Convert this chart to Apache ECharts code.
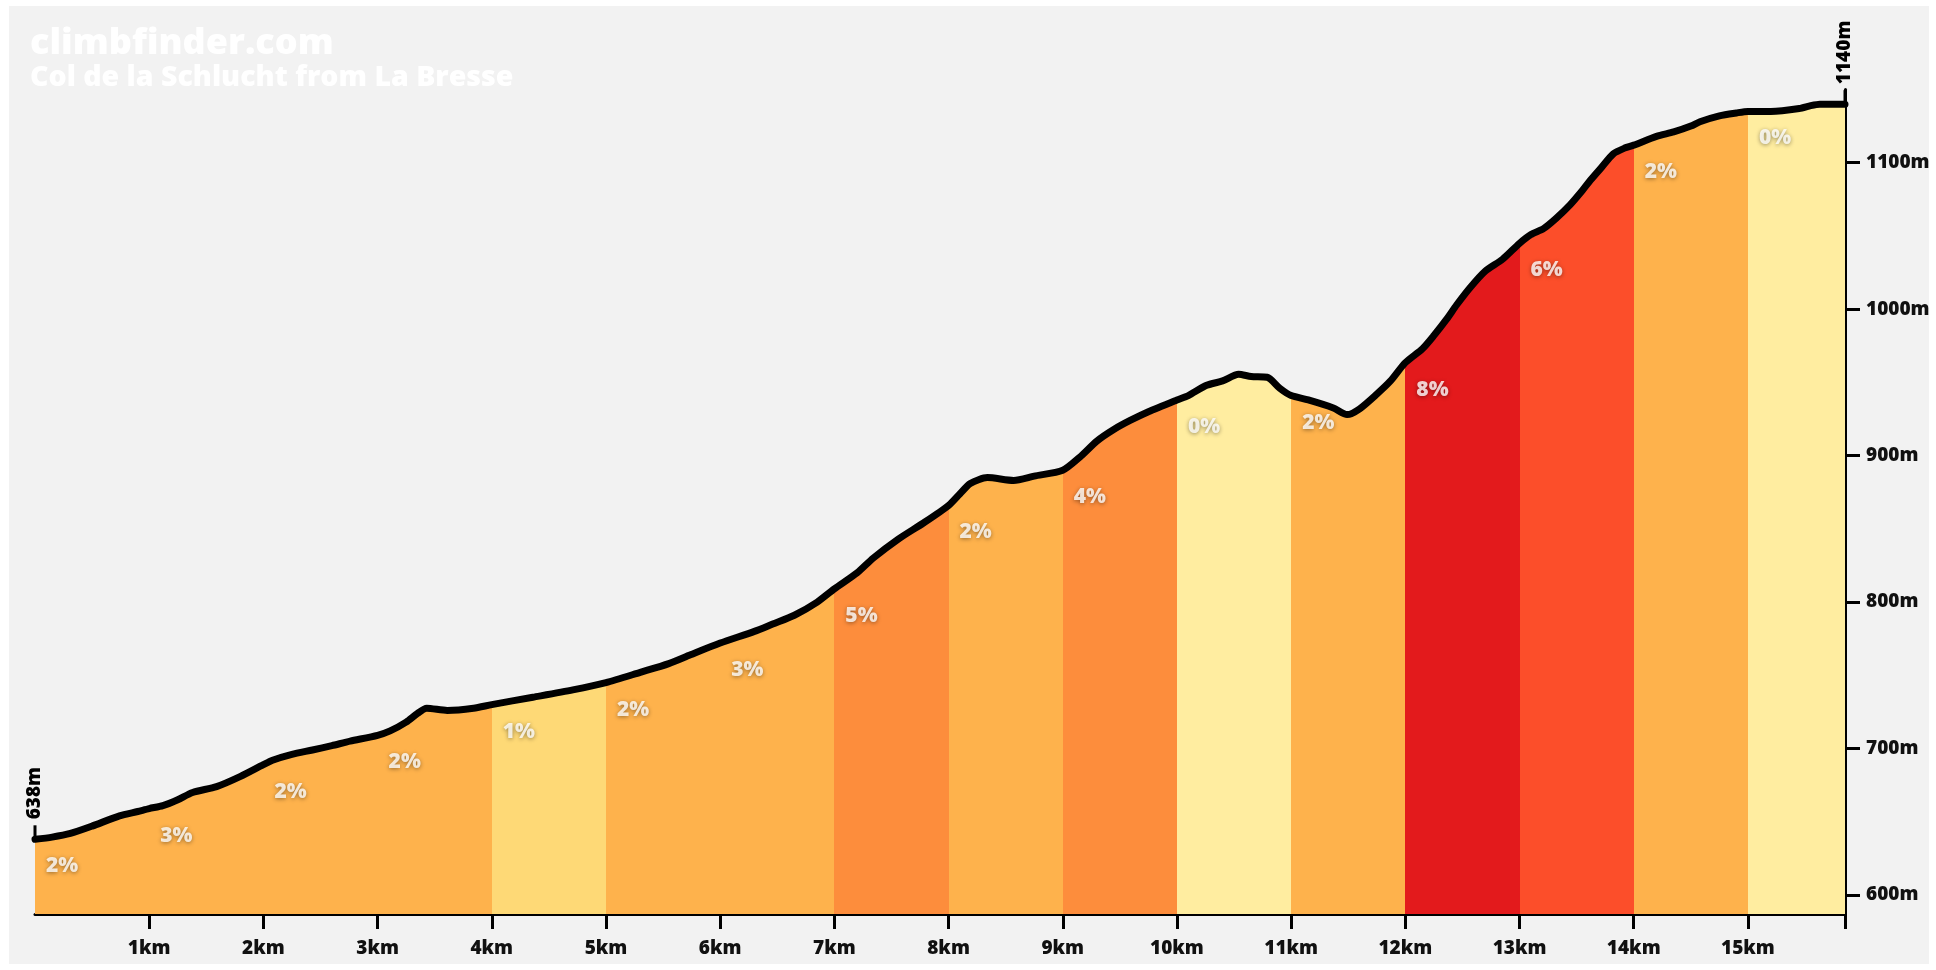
<!DOCTYPE html>
<html>
<head>
<meta charset="utf-8">
<title>Col de la Schlucht from La Bresse</title>
<script src="https://cdn.jsdelivr.net/npm/echarts@6/dist/echarts.min.js"></script>
<style>
  html, body { margin: 0; padding: 0; background: #ffffff; width: 1936px; height: 970px; overflow: hidden; }
  #panel { position: absolute; left: 9px; top: 6px; width: 1920px; height: 958px; background: #f2f2f2; }
  #chart { position: absolute; left: 0; top: 0; width: 1936px; height: 970px; }
</style>
</head>
<body>
<div id="panel"></div>
<div id="chart"></div>
<script>
// Elevation profile: [distance in km, elevation in m]
const profile = [
  [0, 638], [0.15, 639.5], [0.31, 642], [0.5, 647], [0.74, 654], [0.9, 657],
  [1, 659], [1.12, 661], [1.25, 665], [1.38, 670], [1.59, 674], [1.8, 681],
  [2, 689], [2.08, 692], [2.25, 696], [2.43, 699], [2.6, 702], [2.76, 705],
  [3, 709], [3.11, 712], [3.25, 718], [3.35, 724], [3.43, 727.5], [3.61, 726], [3.84, 727.5],
  [4, 730], [4.36, 735], [4.71, 740],
  [5, 745], [5.3, 752], [5.55, 758], [5.74, 764],
  [6, 772], [6.3, 780], [6.46, 785], [6.65, 791], [6.85, 800],
  [7, 809], [7.2, 820], [7.34, 830], [7.56, 843], [7.78, 854],
  [8, 866], [8.1, 874], [8.19, 881], [8.34, 885], [8.57, 883], [8.75, 886],
  [9, 890], [9.15, 899], [9.3, 910], [9.45, 918], [9.59, 924], [9.75, 930],
  [10, 938], [10.1, 941], [10.26, 948], [10.4, 951], [10.54, 955.5], [10.65, 954], [10.79, 953.5], [10.9, 946],
  [11, 941], [11.15, 938], [11.37, 932.5], [11.49, 928], [11.6, 932], [11.75, 942], [11.87, 951],
  [12, 963.5], [12.15, 973], [12.25, 982], [12.36, 993], [12.45, 1003], [12.57, 1015], [12.7, 1026], [12.85, 1034],
  [13, 1045], [13.1, 1051], [13.21, 1055], [13.32, 1062], [13.44, 1071], [13.55, 1081], [13.62, 1088], [13.72, 1097], [13.82, 1106], [13.92, 1110],
  [14, 1112], [14.2, 1118], [14.35, 1121], [14.5, 1125], [14.58, 1128], [14.75, 1132], [14.9, 1134],
  [15, 1135], [15.2, 1135], [15.45, 1137], [15.55, 1139], [15.63, 1140], [15.85, 1140]
];

// Kilometre segments and their average gradient (%)
const segStarts = [0, 1, 2, 3, 4, 5, 6, 7, 8, 9, 10, 11, 12, 13, 14, 15];
const grades    = [2, 3, 2, 2, 1, 2, 3, 5, 2, 4, 0, 2, 8, 6, 2, 0];

// Axis ticks
const xTicks = [1, 2, 3, 4, 5, 6, 7, 8, 9, 10, 11, 12, 13, 14, 15];
const yTicks = [600, 700, 800, 900, 1000, 1100];

const FONT = '"Open Sans"';
const totalKm = profile[profile.length - 1][0];
const startPt = profile[0];
const endPt = profile[profile.length - 1];

function gradeColor(g) {
  if (g < 1) return '#ffeda0';
  if (g < 2) return '#fed976';
  if (g < 4) return '#feb24c';
  if (g < 6) return '#fd8d3c';
  if (g < 8) return '#fc4e2a';
  return '#e31a1c';
}

function elevAt(km) {
  return profile.find(p => p[0] === km)[1];
}

const pieces = segStarts.map((s, i) => {
  const last = i === segStarts.length - 1;
  return last
    ? { gte: s, lte: totalKm + 1, color: gradeColor(grades[i]) }
    : { gte: s, lt: segStarts[i + 1], color: gradeColor(grades[i]) };
});

const gradeLabels = segStarts.map((s, i) => [s, elevAt(s), grades[i]]);

const chart = echarts.init(document.getElementById('chart'), null, { renderer: 'canvas' });

chart.setOption({
  backgroundColor: 'transparent',
  animation: false,
  title: {
    text: 'climbfinder.com',
    subtext: 'Col de la Schlucht from La Bresse',
    left: 25,
    top: 21,
    itemGap: 1,
    textStyle: { color: '#ffffff', fontSize: 36, fontWeight: 800, fontFamily: FONT },
    subtextStyle: { color: '#ffffff', fontSize: 28.5, fontWeight: 800, fontFamily: FONT }
  },
  grid: { left: 35, right: 91, top: 89.5, bottom: 56, containLabel: false },
  xAxis: {
    type: 'value',
    min: 0,
    max: totalKm,
    axisLine: { show: true, onZero: false, lineStyle: { color: '#000', width: 3 } },
    axisTick: { show: true, customValues: xTicks.concat([totalKm]), length: 15, lineStyle: { color: '#000', width: 3 } },
    axisLabel: {
      customValues: xTicks,
      formatter: v => v + 'km',
      margin: 25,
      color: '#111',
      fontSize: 19,
      fontWeight: 800,
      fontFamily: FONT
    },
    splitLine: { show: false }
  },
  yAxis: {
    type: 'value',
    position: 'right',
    min: 587,
    max: 1150,
    axisLine: { show: true, onZero: false, lineStyle: { color: '#000', width: 3 } },
    axisTick: { show: true, customValues: yTicks, length: 15, lineStyle: { color: '#000', width: 3 } },
    axisLabel: {
      customValues: yTicks,
      formatter: v => v + 'm',
      margin: 21,
      color: '#111',
      fontSize: 19,
      fontWeight: 800,
      fontFamily: FONT
    },
    splitLine: { show: false }
  },
  visualMap: {
    type: 'piecewise',
    show: false,
    dimension: 0,
    seriesIndex: 0,
    pieces: pieces
  },
  series: [
    {
      name: 'gradient fill',
      type: 'line',
      data: profile,
      smooth: 0.25,
      symbol: 'none',
      lineStyle: { width: 0 },
      areaStyle: { opacity: 1, origin: 'start' },
      silent: true,
      z: 1
    },
    {
      name: 'profile',
      type: 'line',
      data: profile,
      smooth: 0.25,
      symbol: 'none',
      lineStyle: { color: '#000', width: 7, cap: 'round', join: 'round' },
      silent: true,
      z: 3
    },
    {
      name: 'grades',
      type: 'scatter',
      data: gradeLabels,
      symbolSize: 0,
      silent: true,
      z: 4,
      label: {
        show: true,
        formatter: p => p.value[2] + '%',
        position: [11, 27],
        align: 'left',
        verticalAlign: 'middle',
        color: '#ffffff',
        fontSize: 21,
        fontWeight: 800,
        fontFamily: FONT,
        textShadowColor: 'rgba(0,0,0,0.5)',
        textShadowBlur: 4,
        textShadowOffsetY: 1
      }
    },
    {
      name: 'ends',
      type: 'custom',
      data: [startPt, endPt],
      encode: { x: 0, y: 1 },
      silent: true,
      clip: false,
      z: 5,
      renderItem: function (params, api) {
        const p = api.coord([api.value(0), api.value(1)]);
        const top = p[1] - 14;
        return {
          type: 'group',
          children: [
            {
              type: 'line',
              shape: { x1: p[0], y1: p[1] + 1, x2: p[0], y2: top },
              style: { stroke: '#000', lineWidth: 3 }
            },
            {
              type: 'text',
              x: p[0],
              y: top - 6,
              rotation: Math.PI / 2,
              style: {
                text: Math.round(api.value(1)) + 'm',
                align: 'left',
                verticalAlign: 'middle',
                fill: '#000',
                font: '800 19px ' + FONT
              }
            }
          ]
        };
      }
    }
  ]
});
</script>
</body>
</html>
